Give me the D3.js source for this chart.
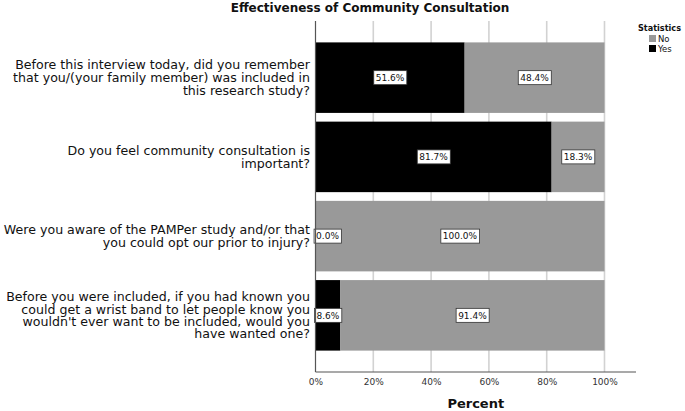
<!DOCTYPE html>
<html><head><meta charset="utf-8">
<script src="https://cdn.jsdelivr.net/npm/d3@7"></script>
<style>body{margin:0;background:#fff}svg{display:block}text{font-family:"DejaVu Sans",Verdana,sans-serif}</style>
</head><body><svg id="c" width="685" height="411"></svg>
<script>
const questions = [
  ["Before this interview today, did you remember","that you/(your family member) was included in","this research study?"],
  ["Do you feel community consultation is","important?"],
  ["Were you aware of the PAMPer study and/or that","you could opt our prior to injury?"],
  ["Before you were included, if you had known you","could get a wrist band to let people know you","wouldn't ever want to be included, would you","have wanted one?"]
];
const yesValues = [51.6, 81.7, 0.0, 8.6];
const noValues  = [48.4, 18.3, 100.0, 91.4];
const seriesNames = ["No","Yes"];
const xTicks = [0,20,40,60,80,100];

const svg = d3.select("#c");
const pLeft = 315.5, pRight100 = 604.5, pRight = 636, pTop = 21, pBottom = 372;
const x = d3.scaleLinear().domain([0,100]).range([pLeft, pRight100]);
const y = d3.scaleBand().domain(d3.range(questions.length)).range([pTop, pBottom]).paddingInner(0.11).paddingOuter(0.27);
const color = {Yes:"#000000", No:"#999999"};

// gridlines
svg.append("g").selectAll("line").data(xTicks.slice(1)).join("line")
  .attr("x1", d=>x(d)).attr("x2", d=>x(d)).attr("y1", pTop).attr("y2", pBottom)
  .attr("stroke", "#d2d2d2").attr("stroke-width", 1.6);

// bars
const rows = questions.map((q,i)=>({i, yes:yesValues[i], no:noValues[i]}));
const g = svg.append("g");
g.selectAll("rect.yes").data(rows).join("rect").attr("class","yes")
  .attr("x", x(0)).attr("y", d=>y(d.i)).attr("width", d=>x(d.yes)-x(0)).attr("height", y.bandwidth())
  .attr("fill", color.Yes);
g.selectAll("rect.no").data(rows).join("rect").attr("class","no")
  .attr("x", d=>x(d.yes)).attr("y", d=>y(d.i)).attr("width", d=>x(d.yes+d.no)-x(d.yes)).attr("height", y.bandwidth())
  .attr("fill", color.No);

// value labels
function valLabel(cx, cy, txt){
  const t = svg.append("text").attr("x", cx).attr("y", cy+3.3).attr("text-anchor","middle")
    .attr("font-size", 9).attr("fill","#111").text(txt);
  const b = t.node().getBBox();
  svg.insert("rect", function(){return t.node();})
    .attr("x", b.x-2).attr("y", cy-7).attr("width", b.width+4).attr("height", 14)
    .attr("fill","#fff").attr("stroke","#333").attr("stroke-width",0.8);
}
rows.forEach(d=>{
  const cy = y(d.i)+y.bandwidth()/2;
  let cxY = (x(0)+x(d.yes))/2;
  if (d.yes < 5) cxY = x(0) + 12;
  valLabel(cxY, cy, d.yes.toFixed(1)+"%");
  valLabel((x(d.yes)+x(d.yes+d.no))/2, cy, d.no.toFixed(1)+"%");
});

// axes lines
svg.append("line").attr("x1", pLeft).attr("x2", pLeft).attr("y1", pTop).attr("y2", pBottom).attr("stroke","#555").attr("stroke-width",1.2);
svg.append("line").attr("x1", pLeft).attr("x2", pRight).attr("y1", pBottom).attr("y2", pBottom).attr("stroke","#555").attr("stroke-width",1.2);

// x tick labels
const xAxis = d3.axisBottom(x).tickValues(xTicks).tickFormat(d=>d+"%").tickSize(0).tickPadding(7);
const ax = svg.append("g").attr("transform",`translate(0,${pBottom})`).call(xAxis);
ax.select(".domain").remove();
ax.selectAll("text").attr("font-size",9).attr("fill","#333").attr("font-family","DejaVu Sans, sans-serif");

// category labels
rows.forEach(d=>{
  const lines = questions[d.i];
  const cy = y(d.i)+y.bandwidth()/2;
  const lh = lines.length > 3 ? 12.3 : 13.3;
  const t = svg.append("text").attr("text-anchor","end").attr("font-size",12.6).attr("fill","#111");
  lines.forEach((l,k)=>{
    t.append("tspan").attr("x", 310).attr("y", cy + (k-(lines.length-1)/2)*lh + 4.4).text(l);
  });
});

// title
svg.append("text").attr("x", 370).attr("y", 12).attr("text-anchor","middle").attr("font-size",12).attr("font-weight","bold").attr("fill","#111").text("Effectiveness of Community Consultation");
// x axis title
svg.append("text").attr("x", (pLeft+pRight)/2).attr("y", 408).attr("text-anchor","middle").attr("font-size",13).attr("font-weight","bold").attr("fill","#111").text("Percent");

// legend
const lg = svg.append("g");
lg.append("text").attr("x", 638).attr("y", 31).attr("font-size",9).attr("font-weight","bold").attr("fill","#111")
  .attr("textLength",43).attr("lengthAdjust","spacingAndGlyphs").text("Statistics");
seriesNames.forEach((s,k)=>{
  lg.append("rect").attr("x", 649).attr("y", 35+k*10).attr("width",7).attr("height",7).attr("fill", color[s]);
  lg.append("text").attr("x", 658).attr("y", 41.5+k*10).attr("font-size",8.5).attr("fill","#111").text(s);
});
</script></body></html>
